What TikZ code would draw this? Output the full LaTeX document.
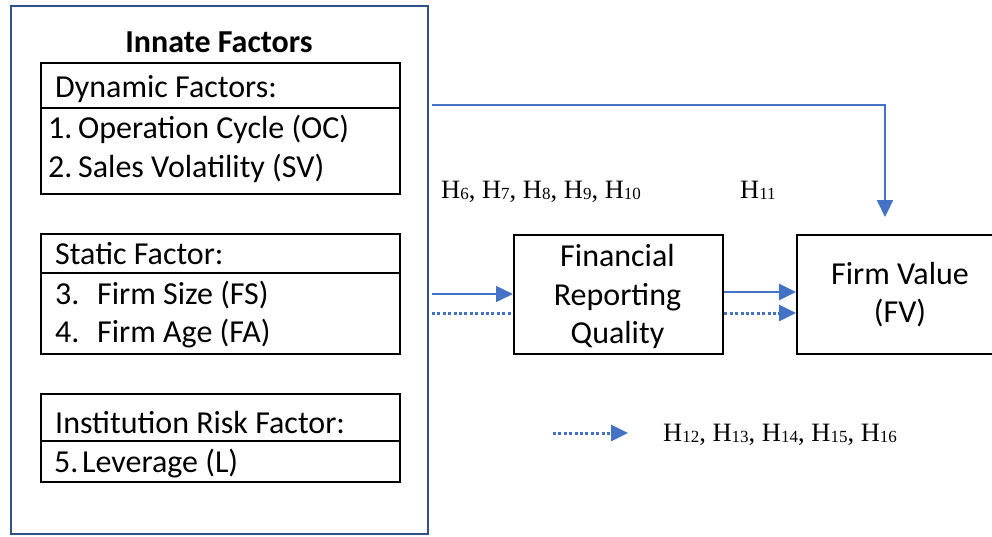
\documentclass[tikz,border=0pt]{standalone}
\usepackage{fontspec}
\setmainfont{Carlito}
\newfontfamily\tnr{Liberation Serif}
\usetikzlibrary{arrows.meta}
\definecolor{boxblue}{HTML}{2F528F}
\definecolor{arrblue}{HTML}{4472C4}
\newcommand\hsub[1]{H{\fontsize{17}{17}\selectfont\raisebox{-1.5pt}{#1}}}
\begin{document}
\begin{tikzpicture}[x=1pt,y=-1pt,
  txt/.style={font=\fontsize{32}{36}\selectfont, inner sep=0pt},
  htxt/.style={font=\tnr\fontsize{26.5}{30}\selectfont, inner sep=0pt, anchor=base west},
  blackbox/.style={draw=black, line width=2.4pt, inner sep=0pt, anchor=north west},
  divider/.style={draw=black, line width=2.4pt},
  conn/.style={draw=arrblue, line width=1.8pt},
  dotconn/.style={draw=arrblue, line width=3pt, dash pattern=on 3pt off 2.4pt},
  tip/.style={-{Triangle[length=17pt,width=16pt]}},
]
\useasboundingbox (0,0) rectangle (992,536);
% outer box
\node[draw=boxblue, line width=2.4pt, minimum width=417pt, minimum height=528pt, anchor=north west, inner sep=0pt] (innate) at (10,5) {};
\node[txt, font=\fontsize{32}{36}\selectfont\bfseries, anchor=base] (title) at (219,52) {Innate Factors};
% dynamic
\node[blackbox, minimum width=359pt, minimum height=131pt] (dyn) at (40,62) {};
\coordinate (d1) at (40,108);
\draw[divider] (d1) -- (d1 -| dyn.east);
\node[txt, anchor=base west] (dynh) at (55,97) {Dynamic Factors:};
\node[txt, anchor=base west] (oc) at (48,138) {\makebox[30pt][l]{1.}Operation Cycle (OC)};
\node[txt, anchor=base west] (sv) at (48,177) {\makebox[30pt][l]{2.}Sales Volatility (SV)};
% static
\node[blackbox, minimum width=359pt, minimum height=120pt] (stat) at (40,233) {};
\coordinate (d2) at (40,273);
\draw[divider] (d2) -- (d2 -| stat.east);
\node[txt, anchor=base west] (stath) at (55,264) {Static Factor:};
\node[txt, anchor=base west] (fs) at (55,304) {\makebox[42pt][l]{3.}Firm Size (FS)};
\node[txt, anchor=base west] (fa) at (55,342) {\makebox[42pt][l]{4.}Firm Age (FA)};
% institution
\node[blackbox, minimum width=359pt, minimum height=88pt] (inst) at (40,393) {};
\coordinate (d3) at (40,441);
\draw[divider] (d3) -- (d3 -| inst.east);
\node[txt, anchor=base west] (insth) at (55,433) {Institution Risk Factor:};
\node[txt, anchor=base west] (lev) at (54,472) {\makebox[28pt][l]{5.}Leverage (L)};
% FRQ
\node[blackbox, minimum width=209pt, minimum height=119pt] (frq) at (513,234) {};
\node[txt, anchor=base] (frq1) at (617.5,266) {Financial};
\node[txt, anchor=base] (frq2) at (617.5,305) {Reporting};
\node[txt, anchor=base] (frq3) at (617.5,343) {Quality};
% FV
\node[blackbox, minimum width=212pt, minimum height=119pt] (fv) at (796,234) {};
\node[txt, anchor=base] (fv1) at (900,284) {Firm Value};
\node[txt, anchor=base] (fv2) at (900,322) {(FV)};
% labels
\node[htxt] (hA) at (441,198) {\hsub{6}, \hsub{7}, \hsub{8}, \hsub{9}, \hsub{10}};
\node[htxt] (hB) at (740,198) {\hsub{11}};
\node[htxt] (hC) at (663,441) {\hsub{12}, \hsub{13}, \hsub{14}, \hsub{15}, \hsub{16}};
% connectors
\coordinate (a1) at (432,294);
\coordinate (a2) at (432,313);
\draw[conn, line width=1.5pt, tip] (a1) -- (frq.west |- a1);
\draw[dotconn] (a2) -- (frq.west |- a2);
\coordinate (b1) at (frq.east |- 0,292);
\coordinate (b2) at (frq.east |- 0,313);
\draw[conn, line width=2.8pt, tip] (b1) -- (fv.west |- b1);
\draw[dotconn, tip] (b2) -- (fv.west |- b2);
\coordinate (t0) at (432,105);
\coordinate (t1) at (885,217);
\draw[conn, line width=2.2pt, tip] (t0) -| (t1);
\coordinate (l0) at (553,433);
\coordinate (l1) at (628,433);
\draw[dotconn, tip] (l0) -- (l1);
\end{tikzpicture}
\end{document}
